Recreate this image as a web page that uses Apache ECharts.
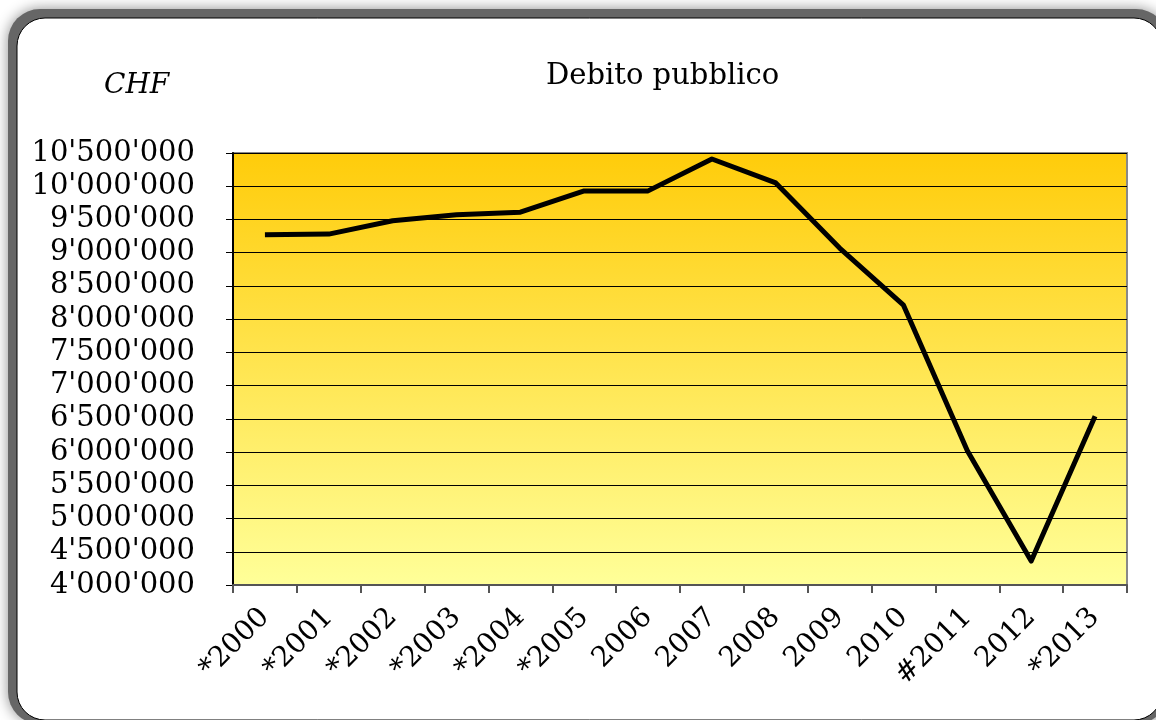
<!DOCTYPE html>
<html>
<head>
<meta charset="utf-8">
<script src="https://cdn.jsdelivr.net/npm/echarts@6/dist/echarts.min.js"></script>
<style>
  html, body { margin: 0; padding: 0; background: #fff; }
  #chart { width: 1156px; height: 720px; }
</style>
</head>
<body>
<div id="chart"></div>
<script>
// anni (asterisco = preventivo, # = consuntivo provvisorio)
const years = ["*2000", "*2001", "*2002", "*2003", "*2004", "*2005", "2006", "2007", "2008", "2009", "2010", "#2011", "2012", "*2013"];
const debt = [9270000, 9280000, 9480000, 9570000, 9610000, 9930000, 9930000, 10410000, 10050000, 9070000, 8210000, 6020000, 4360000, 6540000];
const yMin = 4000000;
const yMax = 10500000;
const yStep = 500000;

const chart = echarts.init(document.getElementById("chart"));

const fmt = (v) => String(v).replace(/\B(?=(\d{3})+(?!\d))/g, "'");
const serif = "DejaVu Serif";

const option = {
  backgroundColor: "#fff",
  animation: false,
  graphic: [
    {
      // cornice grigia (ombra)
      type: "rect",
      z: -10,
      shape: { x: 8, y: 9, width: 1160, height: 715, r: 32 },
      style: { fill: "#666", shadowBlur: 14, shadowColor: "rgba(0,0,0,0.45)" },
      silent: true,
    },
    {
      type: "rect",
      z: -9,
      shape: { x: 17, y: 18, width: 1145, height: 702, r: 28 },
      style: { fill: "#fff", stroke: "#000", lineWidth: 1 },
      silent: true,
    },
    {
      type: "text",
      left: 104,
      top: 72,
      style: { text: "CHF", font: "italic 28px '" + serif + "'", fill: "#000" },
    },
    {
      type: "text",
      left: 546,
      top: 62,
      style: { text: "Debito pubblico", font: "29px '" + serif + "'", fill: "#000" },
    },
  ],
  grid: {
    left: 233,
    right: 29,
    top: 153,
    bottom: 135,
    show: true,
    borderColor: "#888",
    borderWidth: 2,
    backgroundColor: new echarts.graphic.LinearGradient(0, 0, 0, 1, [
      { offset: 0, color: "#FFCC0A" },
      { offset: 1, color: "#FFFF99" },
    ]),
  },
  xAxis: {
    type: "category",
    data: years,
    boundaryGap: true,
    axisLine: { lineStyle: { color: "#555", width: 2 } },
    axisTick: { show: true, length: 8, lineStyle: { color: "#555", width: 2 } },
    axisLabel: {
      rotate: 45,
      margin: 28,
      interval: 0,
      fontFamily: serif,
      fontSize: 28,
      color: "#000",
    },
    splitLine: { show: false },
  },
  yAxis: {
    type: "value",
    min: yMin,
    max: yMax,
    interval: yStep,
    axisLine: { show: true, lineStyle: { color: "#000", width: 2 } },
    axisTick: { show: true, length: 7, lineStyle: { color: "#000" } },
    axisLabel: {
      margin: 38,
      fontFamily: serif,
      fontSize: 29,
      color: "#000",
      formatter: fmt,
    },
    splitLine: { show: true, lineStyle: { color: "#000", width: 1 } },
  },
  series: [
    {
      type: "line",
      data: debt,
      symbol: "none",
      lineStyle: { color: "#000", width: 5, join: "round" },
    },
  ],
};

chart.setOption(option);
</script>
</body>
</html>
